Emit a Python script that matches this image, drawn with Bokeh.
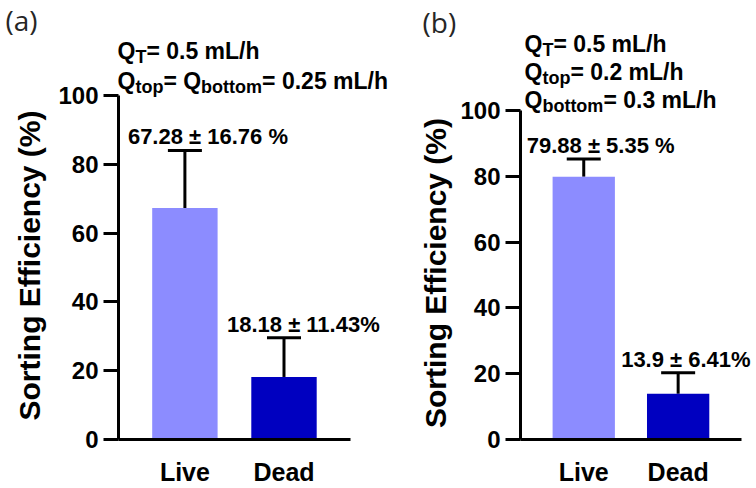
import math
from bokeh.plotting import figure
from bokeh.models import (ColumnDataSource, Range1d, Whisker, TeeHead, LabelSet,
                          Label, FixedTicker)
from bokeh.layouts import row
from bokeh.core.properties import value
from bokeh.embed import file_html
from bokeh.resources import INLINE

# ---- data ----
categories = ["Live", "Dead"]
colors = ["#8C8CFF", "#0000C0"]

a_values = [67.28, 18.18]
a_errors = [16.76, 11.43]
a_labels = ["67.28 \u00b1 16.76 %", "18.18 \u00b1 11.43%"]

b_values = [79.88, 13.9]
b_errors = [5.35, 6.41]
b_labels = ["79.88 \u00b1 5.35 %", "13.9 \u00b1 6.41%"]

y_ticks = [0, 20, 40, 60, 80, 100]
y_title = "Sorting Efficiency (%)"

a_header = [[("Q", False), ("T", True), ("= 0.5 mL/h", False)],
            [("Q", False), ("top", True), ("= Q", False), ("bottom", True), ("= 0.25 mL/h", False)]]
b_header = [[("Q", False), ("T", True), ("= 0.5 mL/h", False)],
            [("Q", False), ("top", True), ("= 0.2 mL/h", False)],
            [("Q", False), ("bottom", True), ("= 0.3 mL/h", False)]]

FONT = "Liberation Sans"
MAIN_SIZE = 23
SUB_SIZE = 18
SUB_DROP = 6
H = 488

# Arial/Liberation Sans Bold advance widths (per 1000 em)
W = {' ': 278, '=': 584, '.': 278, '/': 278, 'Q': 778, 'T': 611, 'L': 611,
     'a': 556, 'b': 611, 'c': 556, 'd': 611, 'e': 556, 'h': 611, 'l': 278,
     'm': 889, 'o': 611, 'p': 611, 't': 333}
for d in "0123456789":
    W[d] = 556


def text_width(s, size):
    return sum(W.get(c, 556) for c in s) * size / 1000.0


def make_panel(values, errors, labels, header, tag, width, axis_px, xppu, top100_px,
               header_x, baselines, tag_x, tag_y, title_x):
    # layout geometry (pixels inside this panel's canvas)
    zero_px = 439.0
    yppu = (zero_px - top100_px) / 100.0
    x_left = -0.17
    x_start = x_left - axis_px / xppu
    x_end = x_start + width / xppu
    y_start = -(H - zero_px) / yppu
    y_end = zero_px / yppu

    def px_x(px):
        return x_start + px / xppu

    def px_y(py):
        return (zero_px - py) / yppu

    xs = [i + 0.5 for i in range(len(categories))]
    src = ColumnDataSource(dict(
        x=xs, val=values, upper=[v + e for v, e in zip(values, errors)],
        color=colors, label=labels))
    p = figure(x_range=Range1d(x_start, x_end), y_range=Range1d(y_start, y_end),
               width=width, height=H,
               output_backend="svg", toolbar_location=None, title=None,
               min_border=0, min_border_left=0, min_border_right=0,
               min_border_top=0, min_border_bottom=0)
    p.outline_line_color = None
    p.background_fill_color = "white"
    p.border_fill_color = "white"
    p.xgrid.grid_line_color = None
    p.ygrid.grid_line_color = None

    p.vbar(x="x", top="val", width=0.66, source=src, fill_color="color", line_color=None)

    w = Whisker(source=src, base="x", upper="upper", lower="val", dimension="height",
                line_width=3, line_color="black",
                upper_head=TeeHead(size=34, line_width=3, line_color="black"),
                lower_head=None)
    p.add_layout(w)

    ls = LabelSet(x="x", y="upper", text="label", source=src, x_offset=-57, y_offset=6,
                  text_align="left", text_baseline="alphabetic",
                  text_font=value(FONT), text_font_style="bold", text_font_size="22px",
                  text_color="black")
    p.add_layout(ls)

    yax = p.yaxis[0]
    yax.fixed_location = x_left
    yax.ticker = FixedTicker(ticks=y_ticks)
    yax.bounds = (0, 100)
    yax.axis_line_width = 3
    yax.major_tick_line_width = 3
    yax.major_tick_out = 15
    yax.major_tick_in = 0
    yax.minor_tick_line_color = None
    yax.major_label_standoff = 5
    yax.major_label_text_font = FONT
    yax.major_label_text_font_style = "bold"
    yax.major_label_text_font_size = "24px"
    yax.major_label_text_color = "black"

    xax = p.xaxis[0]
    xax.fixed_location = 0
    xax.ticker = FixedTicker(ticks=xs)
    xax.major_label_overrides = {x: c for x, c in zip(xs, categories)}
    xax.bounds = (x_left, 2.17)
    xax.axis_line_width = 3
    xax.major_tick_line_color = None
    xax.minor_tick_line_color = None
    xax.major_tick_out = 0
    xax.major_tick_in = 0
    xax.major_label_standoff = 18
    xax.major_label_text_font = FONT
    xax.major_label_text_font_style = "bold"
    xax.major_label_text_font_size = "25px"
    xax.major_label_text_color = "black"

    # y-axis title
    p.add_layout(Label(x=px_x(title_x), y=px_y((top100_px + zero_px) / 2 - 2),
                       text=y_title, angle=math.pi / 2, text_align="center",
                       text_baseline="middle", text_font=FONT, text_font_style="bold",
                       text_font_size="30px", text_color="black"))

    # header lines with subscripts
    for line, base in zip(header, baselines):
        cur = header_x
        for txt, sub in line:
            size = SUB_SIZE if sub else MAIN_SIZE
            p.add_layout(Label(x=px_x(cur), y=px_y(base + (SUB_DROP if sub else 0)),
                               text=txt, text_font=FONT, text_font_style="bold",
                               text_font_size=f"{size}px", text_color="black",
                               text_align="left", text_baseline="alphabetic"))
            cur += text_width(txt, size)

    p.add_layout(Label(x=px_x(tag_x), y=px_y(tag_y), text=tag, text_font="Open Sans",
                       text_font_size="28px", text_color="#262626",
                       text_align="left", text_baseline="middle"))
    return p


pa = make_panel(a_values, a_errors, a_labels, a_header, "(a)", width=390,
                axis_px=118, xppu=99.1, top100_px=95, header_x=117,
                baselines=[50, 80], tag_x=5, tag_y=19, title_x=29)
pb = make_panel(b_values, b_errors, b_labels, b_header, "(b)", width=366,
                axis_px=130, xppu=94.4, top100_px=110, header_x=134,
                baselines=[43, 71, 99], tag_x=32, tag_y=21, title_x=45)

layout = row(pa, pb, spacing=0)
open("out.html", "w").write(file_html(layout, INLINE))
